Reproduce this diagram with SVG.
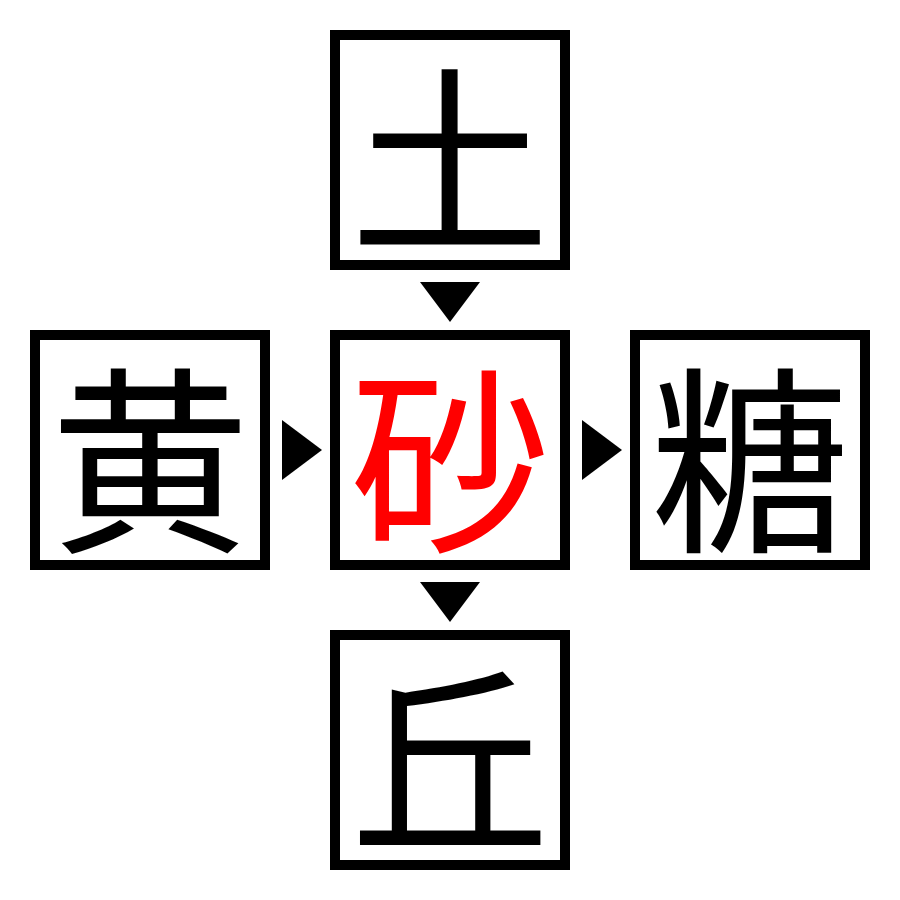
<svg xmlns="http://www.w3.org/2000/svg" width="900" height="900" viewBox="0 0 900 900">
<style>
.box{fill:#fff;stroke:#000;stroke-width:10}
.k{font-family:"Noto Sans CJK JP","Noto Sans CJK SC",serif;font-size:200px;text-anchor:middle;dominant-baseline:central;fill:#000}
.red{fill:#ff0000}
.arr{fill:#000}
</style>
<rect width="900" height="900" fill="#fff"/>
<g id="connectors">
<polygon class="arr" points="420,282 480,282 450,322"/>
<polygon class="arr" points="282,420 282,480 322,450"/>
<polygon class="arr" points="582,420 582,480 622,450"/>
<polygon class="arr" points="420,582 480,582 450,622"/>
</g>
<g id="top"><rect class="box" x="335" y="35" width="230" height="230"/><text class="k" x="450" y="150">土</text></g>
<g id="left"><rect class="box" x="35" y="335" width="230" height="230"/><text class="k" x="150" y="450">黄</text></g>
<g id="center"><rect class="box" x="335" y="335" width="230" height="230"/><text class="k red" x="450" y="450">砂</text></g>
<g id="right"><rect class="box" x="635" y="335" width="230" height="230"/><text class="k" x="750" y="450">糖</text></g>
<g id="bottom"><rect class="box" x="335" y="635" width="230" height="230"/><text class="k" x="450" y="750">丘</text></g>
</svg>
